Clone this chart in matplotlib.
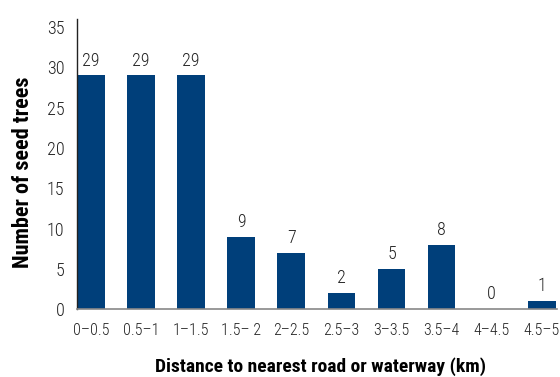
import matplotlib.pyplot as plt
import numpy as np

# ------------------------------
# Data
# ------------------------------
categories = ["0–0.5", "0.5–1", "1–1.5", "1.5– 2", "2–2.5",
              "2.5–3", "3–3.5", "3.5–4", "4–4.5", "4.5–5"]
seed_trees = [29, 29, 29, 9, 7, 2, 5, 8, 0, 1]
y_ticks = [0, 5, 10, 15, 20, 25, 30, 35]

plt.rcParams["font.family"] = ["Roboto Condensed", "DejaVu Sans"]

fig = plt.figure(figsize=(5.6, 3.77), dpi=100)
ax = fig.add_axes([0.1375, 0.18, 0.857, 0.77])

x = np.arange(len(categories))
ax.bar(x, seed_trees, width=0.55, color="#003f7a", zorder=2)

for xi, v in zip(x, seed_trees):
    ax.text(xi, v + 0.7, str(v), ha="center", va="bottom",
            fontsize=13, fontweight="light", color="#222222")

ax.set_xlim(-0.275, 9.3)
ax.set_ylim(0, 36)
ax.set_yticks(y_ticks)
ax.set_xticks(x)
ax.set_xticklabels(categories)
ax.tick_params(axis="both", length=0, labelsize=13, colors="#222222")
ax.tick_params(axis="x", labelsize=11.5, pad=10)
ax.tick_params(axis="y", pad=9)
for lbl in ax.get_xticklabels() + ax.get_yticklabels():
    lbl.set_fontweight("light")

for side in ["top", "right"]:
    ax.spines[side].set_visible(False)
ax.spines["left"].set_color("#222222")
ax.spines["left"].set_linewidth(1.0)
ax.spines["bottom"].set_color("#888888")
ax.spines["bottom"].set_linewidth(1.2)

ax.set_xlabel("Distance to nearest road or waterway (km)", fontsize=14,
              fontweight="bold", va="top")
ax.xaxis.set_label_coords(0.508, -0.165)
ax.set_ylabel("Number of seed trees", fontsize=16, fontweight="bold")
ax.yaxis.set_label_coords(-0.09, 0.471)

fig.savefig("out.png", dpi=100)
plt.close(fig)
